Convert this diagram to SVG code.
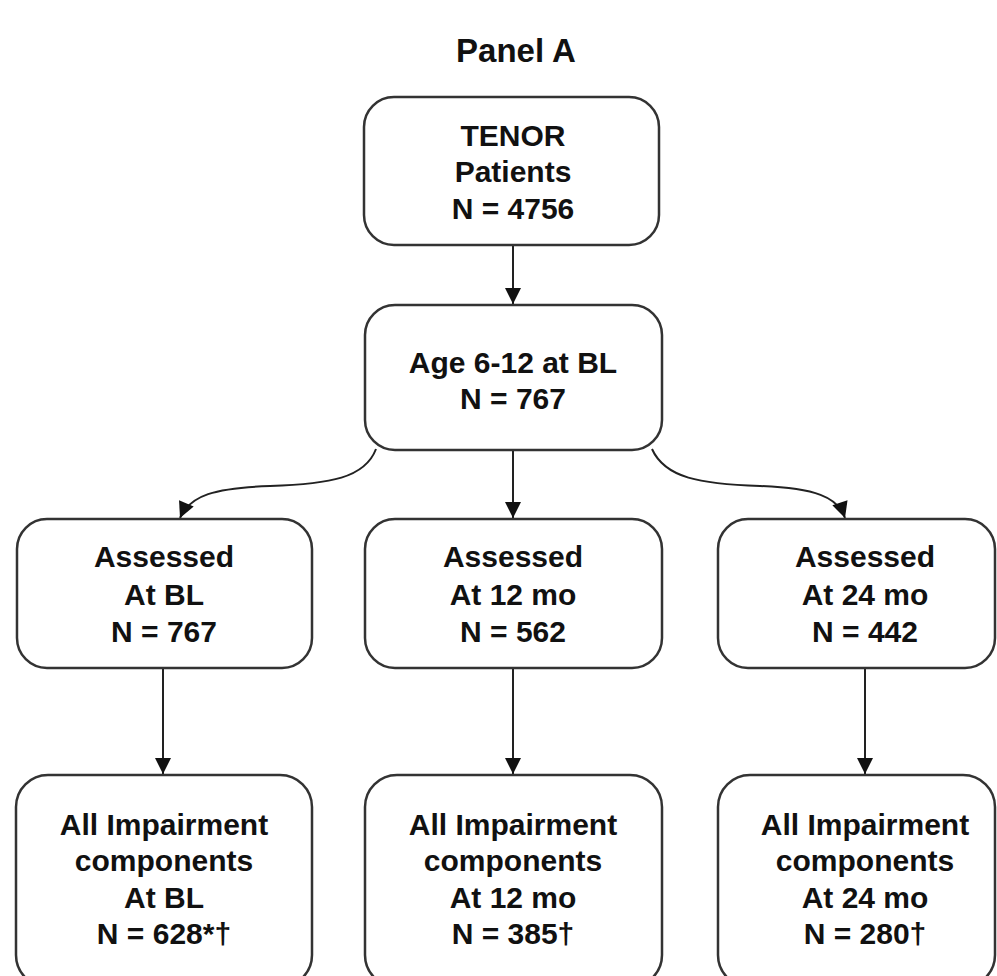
<svg xmlns="http://www.w3.org/2000/svg" width="997" height="976" viewBox="0 0 997 976">
<style>
.box{fill:#fff;stroke:#333;stroke-width:2.5}
.t{font-family:"Liberation Sans",Arial,sans-serif;font-weight:bold;font-size:30px;fill:#111;text-anchor:middle}
.c{fill:none;stroke:#222;stroke-width:2}
</style>
<defs>
<marker id="ah" viewBox="0 0 10 10" refX="10" refY="5" markerWidth="17" markerHeight="16" markerUnits="userSpaceOnUse" orient="auto">
<path d="M0,0 L10,5 L0,10 z" fill="#111"/>
</marker>
</defs>
<rect width="997" height="976" fill="#fff"/>
<text class="t" x="516" y="62" style="font-size:33px">Panel A</text>
<g id="connectors">
<path class="c" d="M513,246 V304" marker-end="url(#ah)"/>
<path class="c" d="M513,451 V518" marker-end="url(#ah)"/>
<path class="c" d="M376,449 C365,478 330,484 270,486 C215,488 190,495 180,518" marker-end="url(#ah)"/>
<path class="c" d="M652,449 C665,478 700,484 760,486 C815,488 838,497 845,518" marker-end="url(#ah)"/>
<path class="c" d="M163,669 V774" marker-end="url(#ah)"/>
<path class="c" d="M513,669 V774" marker-end="url(#ah)"/>
<path class="c" d="M865,669 V774" marker-end="url(#ah)"/>
</g>
<g id="tenor">
<rect class="box" x="364" y="97" width="295" height="148" rx="30"/>
<text class="t" x="513" y="146">TENOR</text>
<text class="t" x="513" y="182">Patients</text>
<text class="t" x="513" y="219">N = 4756</text>
</g>
<g id="age">
<rect class="box" x="365" y="305" width="297" height="145" rx="30"/>
<text class="t" x="513" y="373">Age 6-12 at BL</text>
<text class="t" x="513" y="409">N = 767</text>
</g>
<g id="assessed-bl">
<rect class="box" x="17" y="519" width="295" height="149" rx="30"/>
<text class="t" x="164" y="567">Assessed</text>
<text class="t" x="164" y="605">At BL</text>
<text class="t" x="164" y="642">N = 767</text>
</g>
<g id="assessed-12">
<rect class="box" x="365" y="519" width="297" height="149" rx="30"/>
<text class="t" x="513" y="567">Assessed</text>
<text class="t" x="513" y="605">At 12 mo</text>
<text class="t" x="513" y="642">N = 562</text>
</g>
<g id="assessed-24">
<rect class="box" x="718" y="519" width="277" height="149" rx="30"/>
<text class="t" x="865" y="567">Assessed</text>
<text class="t" x="865" y="605">At 24 mo</text>
<text class="t" x="865" y="642">N = 442</text>
</g>
<g id="impair-bl">
<rect class="box" x="16" y="775" width="296" height="212" rx="32"/>
<text class="t" x="164" y="835">All Impairment</text>
<text class="t" x="164" y="871">components</text>
<text class="t" x="164" y="908">At BL</text>
<text class="t" x="164" y="944">N = 628*†</text>
</g>
<g id="impair-12">
<rect class="box" x="365" y="775" width="297" height="212" rx="32"/>
<text class="t" x="513" y="835">All Impairment</text>
<text class="t" x="513" y="871">components</text>
<text class="t" x="513" y="908">At 12 mo</text>
<text class="t" x="513" y="944">N = 385†</text>
</g>
<g id="impair-24">
<rect class="box" x="718" y="775" width="277" height="212" rx="32"/>
<text class="t" x="865" y="835">All Impairment</text>
<text class="t" x="865" y="871">components</text>
<text class="t" x="865" y="908">At 24 mo</text>
<text class="t" x="865" y="944">N = 280†</text>
</g>
</svg>
